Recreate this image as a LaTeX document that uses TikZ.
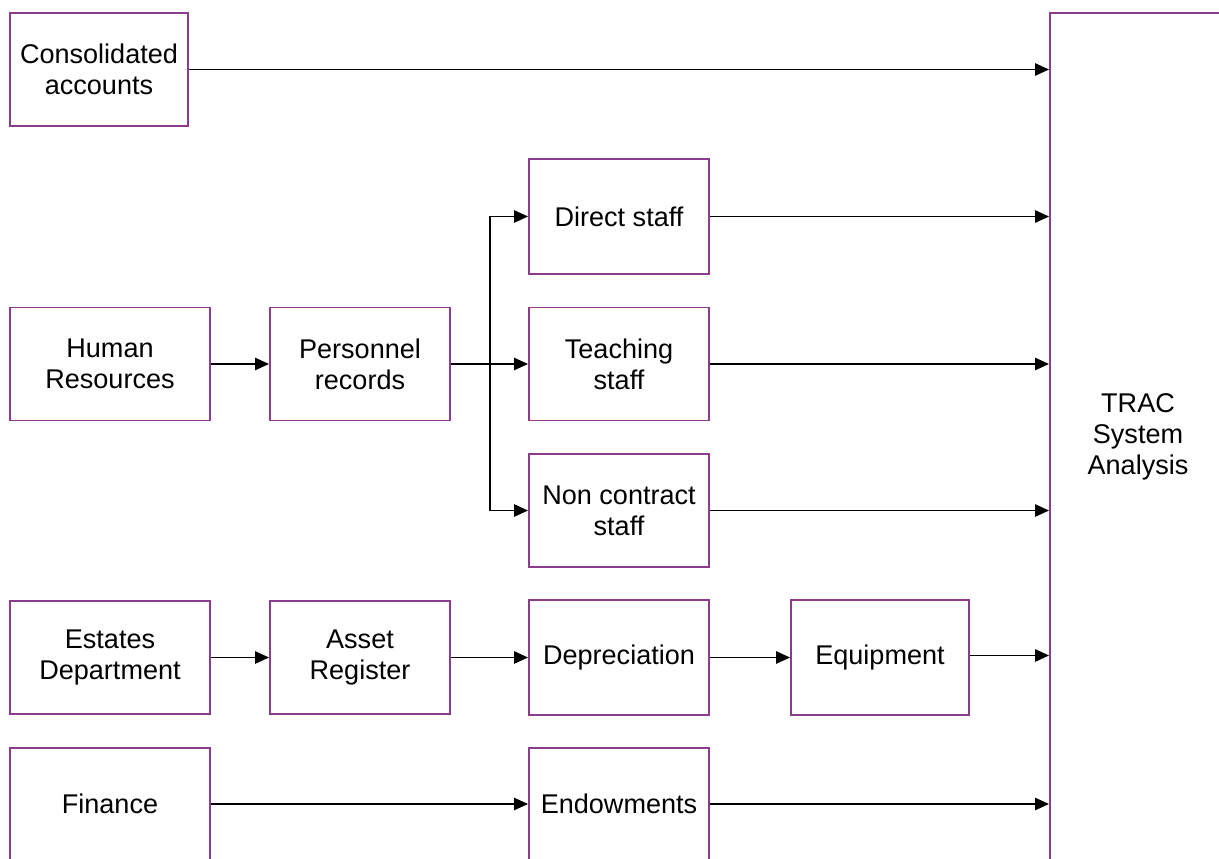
\documentclass[tikz,border=0pt]{standalone}
\usepackage{fontspec}
\setmainfont{Liberation Sans}
\usetikzlibrary{arrows.meta,calc}
\definecolor{boxpurple}{RGB}{140,60,140}
\tikzset{
    srcbox/.style={draw=boxpurple,line width=1.1pt,fill=white,align=center,inner sep=2pt,
        font=\fontsize{15.4}{17.6}\selectfont,minimum height=2.26cm},
    flow/.style={line width=1.1pt,->}
}
\begin{document}
\begin{tikzpicture}[x=0.02cm,y=-0.02cm,>={Triangle[length=8pt,width=7pt]}]
        \useasboundingbox (0,0) rectangle (1219,858);
        \clip (0,0) rectangle (1219,858);
        % left column
        \node[srcbox,minimum width=3.56cm] (cons) at (99,69.5) {Consolidated\\accounts};
        \node[srcbox,minimum width=4cm] (hr) at (110,364) {Human\\Resources};
        \node[srcbox,minimum width=4cm] (est) at (110,657.5) {Estates\\Department};
        \node[srcbox,minimum width=4cm,minimum height=2.24cm] (fin) at (110,804) {Finance};
        % middle columns
        \node[srcbox,minimum width=3.6cm] (pers) at (360,364) {Personnel\\records};
        \node[srcbox,minimum width=3.6cm] (asset) at (360,657.5) {Asset\\Register};
        \node[srcbox,minimum width=3.6cm,minimum height=2.3cm] (dir) at (619,216.5) {Direct staff};
        \node[srcbox,minimum width=3.6cm] (tch) at (619,364) {Teaching\\staff};
        \node[srcbox,minimum width=3.6cm] (nc) at (619,510.5) {Non contract\\staff};
        \node[srcbox,minimum width=3.6cm,minimum height=2.3cm] (dep) at (619,657.5) {Depreciation};
        \node[srcbox,minimum width=3.6cm,minimum height=2.24cm] (endw) at (619,804) {Endowments};
        \node[srcbox,minimum width=3.56cm,minimum height=2.3cm] (equip) at (880,657.5) {Equipment};
        % target
        \node[srcbox,minimum width=3.52cm,minimum height=16.96cm] (trac) at (1138,437) {TRAC\\System\\Analysis};
        % connectors
        \coordinate (split) at (490,364);
        \draw[flow] (hr) -- (pers);
        \draw[line width=1.1pt] (pers) -- (split);
        \draw[flow] (split) -- (tch);
        \draw[flow] (split) |- (dir);
        \draw[flow] (split) |- (nc);
        \draw[flow] (est) -- (asset);
        \draw[flow] (asset) -- (dep);
        \draw[flow] (dep) -- (equip);
        \draw[flow] (fin) -- (endw);
        \draw[flow] (cons) -- (cons -| trac.west);
        \draw[flow] (dir) -- (dir -| trac.west);
        \draw[flow] (tch) -- (tch -| trac.west);
        \draw[flow] (nc) -- (nc -| trac.west);
        \draw[flow] (equip.east) ++(0,-2) -- ($(equip.east -| trac.west)+(0,-2)$);
        \draw[flow] (endw) -- (endw -| trac.west);
    \end{tikzpicture}
\end{document}
